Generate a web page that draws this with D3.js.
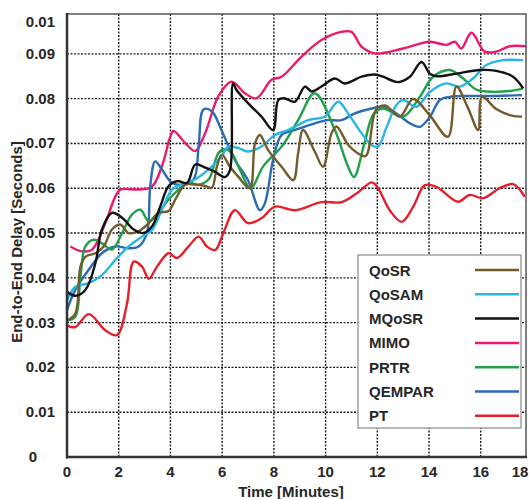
<!DOCTYPE html>
<html>
<head>
<meta charset="utf-8">
<script src="https://cdn.jsdelivr.net/npm/d3@7"></script>
<style>
  html, body { margin: 0; padding: 0; background: #fff; }
  svg { display: block; }
  text { font-family: "Liberation Sans", Arial, sans-serif; font-weight: bold; fill: #262626; }
</style>
</head>
<body>
<svg id="chart" width="529" height="499"></svg>
<script>
// ---------- data ----------
const seriesNames = ["QoSR", "QoSAM", "MQoSR", "MIMO", "PRTR", "QEMPAR", "PT"];
const seriesColors = ["#735b2c", "#29b5e8", "#111111", "#ec1a6c", "#20a04b", "#2a6bb4", "#e3202a"];

const qosrT = [0, 0.32, 0.52, 0.71, 1.1, 1.42, 1.74, 2.06, 2.38, 2.77, 3.16, 3.54, 3.93, 4.19, 4.57, 4.96, 5.35, 5.6, 5.8, 5.99, 6.3, 6.62, 7.07, 7.27, 7.46, 7.78, 8.3, 8.75, 8.94, 9.13, 9.58, 9.9, 10.23, 10.42, 10.87, 11.2, 11.55, 11.95, 12.3, 12.87, 13.38, 14.0, 14.73, 15.06, 15.5, 15.9, 16.05, 16.6, 17.2, 17.6];
const qosrV = [0.0305, 0.032, 0.0425, 0.0447, 0.0455, 0.047, 0.0508, 0.0519, 0.05, 0.0504, 0.0522, 0.0545, 0.0549, 0.0575, 0.0608, 0.0608, 0.0605, 0.0601, 0.0649, 0.0675, 0.0648, 0.0626, 0.060, 0.070, 0.0719, 0.0685, 0.0648, 0.0618, 0.0679, 0.073, 0.0682, 0.0648, 0.0723, 0.0738, 0.0697, 0.068, 0.0672, 0.0775, 0.0785, 0.076, 0.0799, 0.0765, 0.0715, 0.0827, 0.078, 0.073, 0.0804, 0.0777, 0.0762, 0.076];

const qosamT = [0, 0.32, 0.84, 1.35, 1.87, 2.38, 2.9, 3.29, 3.67, 4.06, 4.45, 4.96, 5.48, 5.99, 6.23, 6.62, 7.0, 7.52, 8.04, 8.55, 9.33, 9.97, 10.49, 10.87, 11.39, 11.78, 12.03, 12.35, 12.74, 13.0, 13.51, 14.03, 14.67, 15.19, 15.7, 16.22, 16.86, 17.64];
const qosamV = [0.035, 0.038, 0.0388, 0.0406, 0.044, 0.047, 0.0492, 0.0507, 0.0552, 0.0597, 0.0608, 0.062, 0.0642, 0.0672, 0.0693, 0.069, 0.0682, 0.0693, 0.0719, 0.073, 0.0752, 0.076, 0.0793, 0.0767, 0.0723, 0.0696, 0.0693, 0.0735, 0.0786, 0.0797, 0.0782, 0.0815, 0.0834, 0.0827, 0.0845, 0.0875, 0.0886, 0.0886];

const mqosrT = [0, 0.32, 0.71, 1.1, 1.35, 1.74, 2.13, 2.58, 2.96, 3.29, 3.61, 3.93, 4.25, 4.64, 4.96, 5.35, 5.72, 6.1, 6.3, 6.42, 6.55, 7.0, 7.52, 7.97, 8.17, 8.4, 8.81, 9.2, 9.46, 9.84, 10.36, 10.74, 11.39, 11.9, 12.22, 12.8, 13.26, 13.71, 14.03, 14.29, 15.06, 15.96, 16.6, 17.25, 17.64];
const mqosrV = [0.0369, 0.036, 0.0373, 0.0433, 0.0508, 0.0545, 0.0534, 0.0508, 0.05, 0.0515, 0.056, 0.0605, 0.0616, 0.0612, 0.0653, 0.0646, 0.0637, 0.0625, 0.064, 0.0834, 0.082, 0.079, 0.076, 0.073, 0.0797, 0.0801, 0.0793, 0.0827, 0.0816, 0.0827, 0.0845, 0.0834, 0.0849, 0.0854, 0.0849, 0.0837, 0.0849, 0.0882, 0.0856, 0.085, 0.0856, 0.0864, 0.0862, 0.0849, 0.0823];

const mimoT = [0.13, 0.58, 0.97, 1.48, 1.87, 2.06, 2.77, 3.29, 3.67, 4.0, 4.12, 4.57, 4.96, 5.35, 5.86, 6.37, 6.88, 7.33, 7.91, 8.3, 9.07, 9.84, 10.6, 11.0, 11.39, 11.9, 13.0, 14.03, 14.67, 15.0, 15.25, 15.64, 16.15, 16.6, 17.12, 17.77];
const mimoV = [0.047, 0.0459, 0.0463, 0.0522, 0.0582, 0.0597, 0.0597, 0.0604, 0.0649, 0.0716, 0.0728, 0.0701, 0.0683, 0.0724, 0.0806, 0.0838, 0.0812, 0.0801, 0.0842, 0.0849, 0.0894, 0.0931, 0.0949, 0.0949, 0.0916, 0.0901, 0.0912, 0.0927, 0.092, 0.0927, 0.0912, 0.0947, 0.0905, 0.0905, 0.0917, 0.0917];

const prtrT = [0, 0.32, 0.52, 0.71, 1.03, 1.35, 1.74, 2.13, 2.51, 2.84, 3.16, 3.54, 3.93, 4.32, 4.7, 5.09, 5.48, 5.86, 6.1, 6.35, 6.7, 7.1, 7.6, 8.3, 8.94, 9.58, 10.36, 10.87, 11.1, 11.5, 11.85, 12.22, 13.0, 13.64, 14.16, 14.8, 15.32, 15.83, 16.22, 17.12, 17.64];
const prtrV = [0.0305, 0.0313, 0.0402, 0.047, 0.0485, 0.0477, 0.0463, 0.05, 0.0541, 0.0552, 0.0526, 0.0545, 0.0575, 0.0597, 0.0612, 0.0608, 0.062, 0.0679, 0.0687, 0.068, 0.064, 0.060, 0.065, 0.0693, 0.0752, 0.0812, 0.073, 0.0648, 0.0625, 0.070, 0.0765, 0.0778, 0.076, 0.0804, 0.0849, 0.0864, 0.0845, 0.082, 0.0816, 0.0817, 0.0823];

const qemparT = [0, 0.32, 0.84, 1.35, 1.87, 2.38, 2.77, 3.09, 3.22, 3.41, 3.67, 4.06, 4.45, 4.9, 5.09, 5.28, 5.6, 5.98, 6.49, 7.0, 7.46, 7.65, 7.97, 8.3, 8.81, 9.58, 10.1, 10.62, 11.13, 11.78, 12.22, 12.74, 13.26, 13.64, 14.03, 14.42, 14.8, 15.57, 16.6, 17.6];
const qemparV = [0.0328, 0.0373, 0.0418, 0.0455, 0.047, 0.0466, 0.047, 0.05, 0.0605, 0.066, 0.0642, 0.0612, 0.0608, 0.062, 0.0694, 0.0776, 0.0772, 0.0729, 0.0663, 0.0618, 0.0551, 0.0566, 0.0663, 0.0719, 0.073, 0.0745, 0.0752, 0.0752, 0.0767, 0.0778, 0.0782, 0.0767, 0.0745, 0.0737, 0.0759, 0.0797, 0.0804, 0.0806, 0.0806, 0.0808];

const ptT = [0, 0.32, 0.84, 1.48, 1.93, 2.32, 2.58, 2.9, 3.16, 3.48, 3.93, 4.25, 4.7, 5.09, 5.41, 5.73, 6.04, 6.49, 7.0, 7.52, 8.04, 8.81, 9.84, 10.62, 11.26, 11.78, 12.0, 12.48, 12.94, 13.38, 13.84, 14.29, 15.12, 15.57, 16.09, 16.73, 17.25, 17.7];
const ptV = [0.0294, 0.029, 0.0319, 0.0283, 0.0272, 0.0342, 0.0436, 0.0425, 0.0398, 0.0425, 0.0455, 0.0444, 0.047, 0.0492, 0.047, 0.0462, 0.0499, 0.0551, 0.0522, 0.0533, 0.0559, 0.0551, 0.0569, 0.0569, 0.0591, 0.0613, 0.0603, 0.0551, 0.0525, 0.0558, 0.0607, 0.0603, 0.057, 0.0585, 0.0578, 0.06, 0.0609, 0.0581];

const xTickValues = [0, 2, 4, 6, 8, 10, 12, 14, 16];
const xEndLabel = "18";
const yTickValues = [0, 0.01, 0.02, 0.03, 0.04, 0.05, 0.06, 0.07, 0.08, 0.09];
const yTopLabel = "0.01";
const xTitle = "Time [Minutes]";
const yTitle = "End-to-End Delay [Seconds]";

// ---------- layout ----------
const svg = d3.select("#chart");
const pL = 67, pR = 526, pT = 14, pB = 457;
const x = d3.scaleLinear().domain([0, 17.75]).range([pL, pR]);
const y = d3.scaleLinear().domain([0, 0.0989]).range([pB, pT]);

const allT = [qosrT, qosamT, mqosrT, mimoT, prtrT, qemparT, ptT];
const allV = [qosrV, qosamV, mqosrV, mimoV, prtrV, qemparV, ptV];
const series = seriesNames.map((n, i) => ({
  name: n, color: seriesColors[i],
  pts: allT[i].map((t, j) => [t, allV[i][j]])
}));

svg.append("defs").append("clipPath").attr("id", "clip")
  .append("rect").attr("x", pL).attr("y", pT).attr("width", pR - pL).attr("height", pB - pT);

// grid
const grid = svg.append("g");
grid.selectAll("line.vx").data(xTickValues.filter(d => d > 0)).enter().append("line")
  .attr("x1", d => x(d)).attr("x2", d => x(d)).attr("y1", pT).attr("y2", pB)
  .attr("stroke", "#1a1a1a").attr("stroke-width", 1.4).attr("stroke-dasharray", "2,1.5");
grid.selectAll("line.hy").data(yTickValues.filter(d => d > 0)).enter().append("line")
  .attr("x1", pL).attr("x2", pR).attr("y1", d => y(d)).attr("y2", d => y(d))
  .attr("stroke", "#1a1a1a").attr("stroke-width", 1.4).attr("stroke-dasharray", "2,1.5");

// series
const line = d3.line().x(d => x(d[0])).y(d => y(d[1])).curve(d3.curveCatmullRom.alpha(0.5));
const drawOrder = ["PT", "MIMO", "QEMPAR", "PRTR", "QoSAM", "QoSR", "MQoSR"];
svg.append("g").attr("clip-path", "url(#clip)")
  .selectAll("path").data(drawOrder.map(n => series.find(s => s.name === n))).enter().append("path")
  .attr("d", d => line(d.pts)).attr("fill", "none")
  .attr("stroke", d => d.color).attr("stroke-width", 2.4).attr("stroke-linejoin", "round");

// frame
svg.append("rect").attr("x", pL).attr("y", pT).attr("width", pR - pL).attr("height", pB - pT)
  .attr("fill", "none").attr("stroke", "#555").attr("stroke-width", 1.5);
svg.append("line").attr("x1", pL).attr("x2", pL).attr("y1", pT - 1).attr("y2", pB + 1.5)
  .attr("stroke", "#333").attr("stroke-width", 2.5);
svg.append("line").attr("x1", pL - 1).attr("x2", pR + 1).attr("y1", pB).attr("y2", pB)
  .attr("stroke", "#333").attr("stroke-width", 2.5);

// tick labels
const fs = 15;
svg.append("g").selectAll("text").data(xTickValues).enter().append("text")
  .attr("x", d => x(d)).attr("y", 477).attr("text-anchor", "middle").attr("font-size", fs)
  .text(d => d);
svg.append("text").attr("x", pR - 6).attr("y", 477).attr("text-anchor", "middle")
  .attr("font-size", fs).text(xEndLabel);

const fmt = d3.format(".2f");
svg.append("g").selectAll("text").data(yTickValues).enter().append("text")
  .attr("x", d => d === 0 ? 33 : 55).attr("y", d => y(d) + 5)
  .attr("text-anchor", d => d === 0 ? "middle" : "end").attr("font-size", fs)
  .text(d => d === 0 ? "0" : fmt(d));
svg.append("text").attr("x", 55).attr("y", 27).attr("text-anchor", "end").attr("font-size", fs).text(yTopLabel);

// titles
svg.append("text").attr("x", 291).attr("y", 497).attr("text-anchor", "middle").attr("font-size", 15).text(xTitle);
svg.append("text").attr("transform", "translate(22,242) rotate(-90)").attr("text-anchor", "middle")
  .attr("font-size", 15).text(yTitle);

// legend
const lg = svg.append("g");
lg.append("rect").attr("x", 358).attr("y", 255).attr("width", 163).attr("height", 173)
  .attr("fill", "#fff").attr("stroke", "#8a8a8a").attr("stroke-width", 1.2);
const lgItems = lg.selectAll("g.item").data(series).enter().append("g")
  .attr("transform", (d, i) => `translate(0, ${270 + i * 24.3})`);
lgItems.append("text").attr("x", 369).attr("y", 5.5).attr("font-size", 15).text(d => d.name);
lgItems.append("line").attr("x1", 475).attr("x2", 519).attr("y1", 0).attr("y2", 0)
  .attr("stroke", d => d.color).attr("stroke-width", 2.5);
</script>
</body>
</html>
